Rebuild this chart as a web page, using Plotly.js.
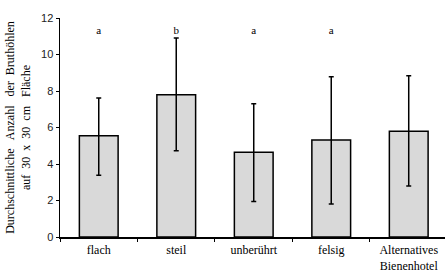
<!DOCTYPE html>
<html><head><meta charset="utf-8">
<script src="https://cdn.plot.ly/plotly-3.0.1.min.js"></script>
<style>body{margin:0;padding:0;background:#fff}#chart{width:445px;height:273px}</style>
</head><body><div id="chart"></div>
<script>
const categories = ["flach", "steil", "unberührt", "felsig", "Alternatives<br>Bienenhotel"];
const means = [5.55, 7.8, 4.64, 5.31, 5.79];
const errPlus = [2.07, 3.1, 2.66, 3.47, 3.05];
const errMinus = [2.17, 3.07, 2.69, 3.5, 3.0];
const letters = ["a", "b", "a", "a", ""];
const letterY = [11.3, 11.3, 11.3, 11.3, 11.3];
const yTicks = [0, 2, 4, 6, 8, 10, 12];
const yTitle = "Durchschnittliche\u00A0\u00A0 Anzahl\u00A0\u00A0 der\u00A0 Bruthöhlen<br>auf\u00A0 30\u00A0 x\u00A0 30\u00A0 cm\u00A0\u00A0 Fläche";

const bars = {
  type: "bar", x: categories, y: means, width: 0.5,
  marker: {color: "#d9d9d9", line: {color: "#000", width: 1.5}},
  error_y: {type: "data", symmetric: false, array: errPlus, arrayminus: errMinus,
            color: "#000", thickness: 1.5, width: 2.5},
  hoverinfo: "skip", showlegend: false
};
const txt = {
  type: "scatter", mode: "text", x: categories, y: letterY, text: letters,
  textfont: {family: "Liberation Serif, Times New Roman, serif", size: 11, color: "#000"},
  hoverinfo: "skip", showlegend: false, cliponaxis: false
};
const layout = {
  width: 445, height: 273,
  margin: {l: 60, r: 0, t: 18, b: 36, pad: 0},
  paper_bgcolor: "#fff", plot_bgcolor: "#fff",
  font: {family: "Liberation Serif, Times New Roman, serif", size: 12, color: "#000"},
  xaxis: {
    type: "category", range: [-0.5, 4.468], showgrid: false, zeroline: false,
    showline: true, linecolor: "#000", linewidth: 1.5,
    ticks: "outside", tickson: "boundaries", ticklen: 3, tickwidth: 1, tickcolor: "#000",
    ticklabelstandoff: 1,
    tickfont: {family: "Liberation Serif, Times New Roman, serif", size: 12},
    fixedrange: true
  },
  yaxis: {
    range: [0, 12], tickvals: yTicks, showgrid: false, zeroline: false,
    showline: true, linecolor: "#000", linewidth: 1.5,
    ticks: "outside", ticklen: 3, tickwidth: 1, tickcolor: "#000",
    tickfont: {family: "Liberation Sans, Arial, sans-serif", size: 11, color: "#222"},
    title: {text: yTitle,
            font: {family: "Liberation Serif, Times New Roman, serif", size: 12}, standoff: 8},
    fixedrange: true
  }
};
Plotly.newPlot("chart", [bars, txt], layout, {staticPlot: true, displayModeBar: false});
</script></body></html>
